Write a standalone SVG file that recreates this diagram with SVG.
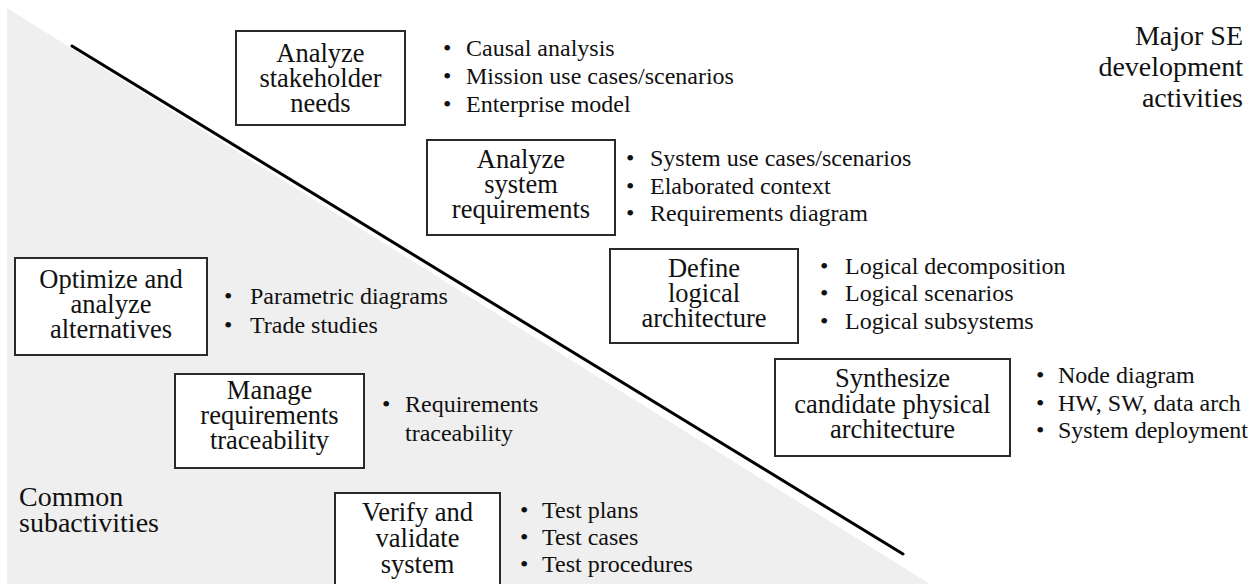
<svg xmlns="http://www.w3.org/2000/svg" width="1259" height="584" viewBox="0 0 1259 584" font-family="'Liberation Serif', Tinos, 'DejaVu Serif', serif">
  <style>
    text { font-family: 'Liberation Serif', Tinos, 'DejaVu Serif', serif; fill: #111; }
    .box { fill: #ffffff; stroke: #2a2a2a; stroke-width: 2; }
    .lbl { font-size: 26.5px; text-anchor: middle; }
    .item { font-size: 24px; }
    .cap { font-size: 28px; }
  </style>

  <!-- shaded region for common subactivities -->
  <polygon points="7,8 930,584 7,584" fill="#efefef"/>

  <!-- dividing line -->
  <g id="connectors">
    <line x1="72" y1="46" x2="903" y2="554" stroke="#000" stroke-width="3" stroke-linecap="round"/>
  </g>

  <g id="label-major">
    <text class="cap" text-anchor="end" x="1243" y="45">Major SE</text>
    <text class="cap" text-anchor="end" x="1243" y="76">development</text>
    <text class="cap" text-anchor="end" x="1243" y="107">activities</text>
  </g>

  <g id="label-common">
    <text class="cap" x="19" y="506">Common</text>
    <text class="cap" x="19" y="532">subactivities</text>
  </g>

  <!-- major development activities -->
  <g id="stakeholder-needs">
    <rect class="box" x="236" y="31" width="169" height="94"/>
    <text class="lbl" x="320.5" y="62">Analyze</text>
    <text class="lbl" x="320.5" y="87">stakeholder</text>
    <text class="lbl" x="320.5" y="112">needs</text>
    <text class="item" x="443" y="56">•</text><text class="item" x="466" y="56">Causal analysis</text>
    <text class="item" x="443" y="84">•</text><text class="item" x="466" y="84">Mission use cases/scenarios</text>
    <text class="item" x="443" y="112">•</text><text class="item" x="466" y="112">Enterprise model</text>
  </g>

  <g id="system-requirements">
    <rect class="box" x="427" y="140" width="188" height="95"/>
    <text class="lbl" x="521" y="168">Analyze</text>
    <text class="lbl" x="521" y="193">system</text>
    <text class="lbl" x="521" y="218">requirements</text>
    <text class="item" x="626" y="166">•</text><text class="item" x="650" y="166">System use cases/scenarios</text>
    <text class="item" x="626" y="194">•</text><text class="item" x="650" y="194">Elaborated context</text>
    <text class="item" x="626" y="221">•</text><text class="item" x="650" y="221">Requirements diagram</text>
  </g>

  <g id="logical-architecture">
    <rect class="box" x="610" y="249" width="188" height="94"/>
    <text class="lbl" x="704" y="277">Define</text>
    <text class="lbl" x="704" y="302">logical</text>
    <text class="lbl" x="704" y="327">architecture</text>
    <text class="item" x="820" y="274">•</text><text class="item" x="845" y="274">Logical decomposition</text>
    <text class="item" x="820" y="301">•</text><text class="item" x="845" y="301">Logical scenarios</text>
    <text class="item" x="820" y="329">•</text><text class="item" x="845" y="329">Logical subsystems</text>
  </g>

  <g id="physical-architecture">
    <rect class="box" x="775" y="359" width="235" height="97"/>
    <text class="lbl" x="892.5" y="387">Synthesize</text>
    <text class="lbl" x="892.5" y="413">candidate physical</text>
    <text class="lbl" x="892.5" y="438">architecture</text>
    <text class="item" x="1036" y="383">•</text><text class="item" x="1058" y="383">Node diagram</text>
    <text class="item" x="1036" y="411">•</text><text class="item" x="1058" y="411">HW, SW, data arch</text>
    <text class="item" x="1036" y="438">•</text><text class="item" x="1058" y="438">System deployment</text>
  </g>

  <!-- common subactivities -->
  <g id="optimize-alternatives">
    <rect class="box" x="15" y="258" width="192" height="97"/>
    <text class="lbl" x="111" y="288">Optimize and</text>
    <text class="lbl" x="111" y="313">analyze</text>
    <text class="lbl" x="111" y="338">alternatives</text>
    <text class="item" x="224" y="304">•</text><text class="item" x="250" y="304">Parametric diagrams</text>
    <text class="item" x="224" y="333">•</text><text class="item" x="250" y="333">Trade studies</text>
  </g>

  <g id="requirements-traceability">
    <rect class="box" x="175" y="374" width="189" height="94"/>
    <text class="lbl" x="269.5" y="399">Manage</text>
    <text class="lbl" x="269.5" y="424">requirements</text>
    <text class="lbl" x="269.5" y="449">traceability</text>
    <text class="item" x="382" y="412">•</text><text class="item" x="405" y="412">Requirements</text>
    <text class="item" x="405" y="441">traceability</text>
  </g>

  <g id="verify-validate">
    <rect class="box" x="335" y="493" width="165" height="100"/>
    <text class="lbl" x="417.5" y="521">Verify and</text>
    <text class="lbl" x="417.5" y="547">validate</text>
    <text class="lbl" x="417.5" y="573">system</text>
    <text class="item" x="520" y="518">•</text><text class="item" x="542" y="518">Test plans</text>
    <text class="item" x="520" y="545">•</text><text class="item" x="542" y="545">Test cases</text>
    <text class="item" x="520" y="572">•</text><text class="item" x="542" y="572">Test procedures</text>
  </g>
</svg>
